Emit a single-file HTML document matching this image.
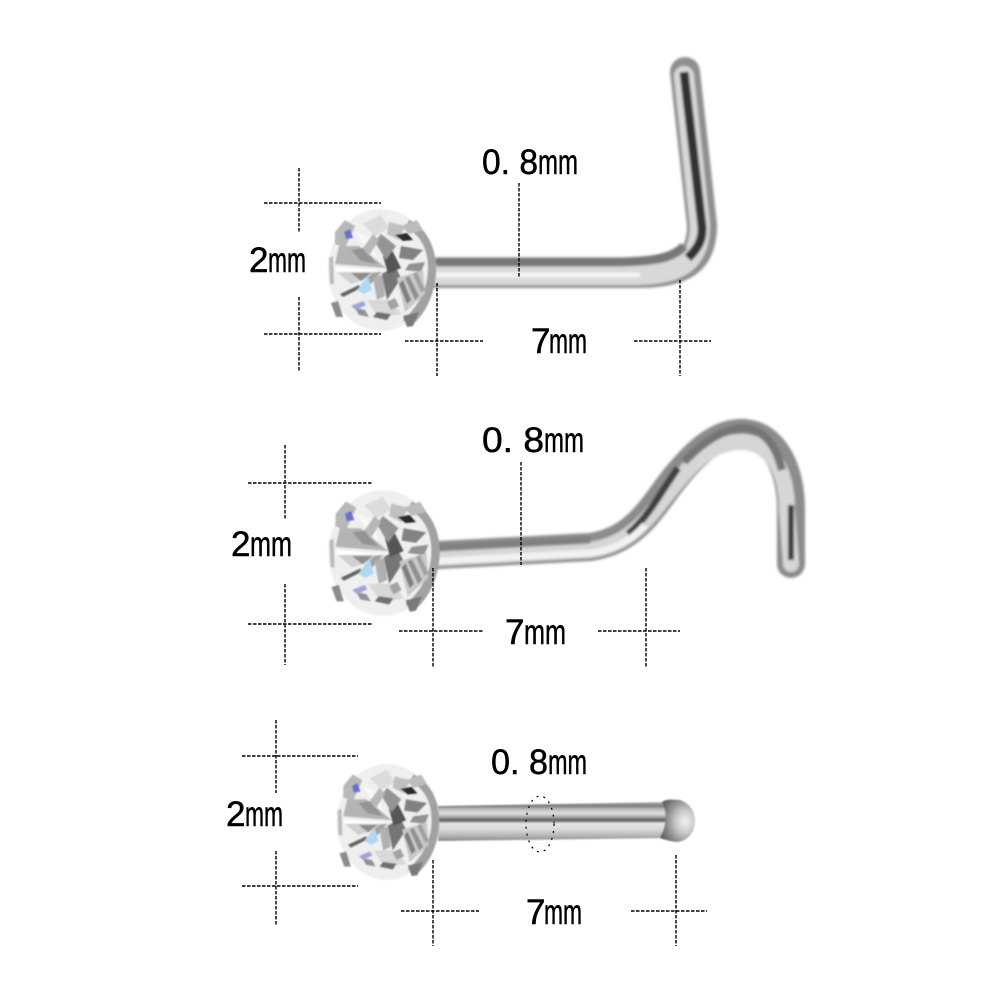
<!DOCTYPE html>
<html><head><meta charset="utf-8"><style>html,body{margin:0;padding:0;background:#fff}svg{display:block}text{font-family:"Liberation Sans",sans-serif;fill:#000;font-size:35px;stroke:#000;stroke-width:.5px}</style></head>
<body>
<svg xmlns="http://www.w3.org/2000/svg" width="1000" height="1000" viewBox="0 0 1000 1000">
<defs>
<filter id="b" x="-10%" y="-10%" width="120%" height="120%"><feGaussianBlur stdDeviation="0.9"/></filter>
<filter id="b2" filterUnits="userSpaceOnUse" x="0" y="0" width="1000" height="1000"><feGaussianBlur stdDeviation="1.3"/></filter>
<linearGradient id="pin" x1="0" y1="0" x2="0" y2="1">
<stop offset="0" stop-color="#b0b0b0"/><stop offset=".1" stop-color="#7c7c7c"/><stop offset=".2" stop-color="#c4c4c4"/><stop offset=".3" stop-color="#dedede"/><stop offset=".4" stop-color="#9c9c9c"/><stop offset=".47" stop-color="#555"/><stop offset=".55" stop-color="#e6e6e6"/><stop offset=".72" stop-color="#d6d6d6"/><stop offset=".88" stop-color="#b0b0b0"/><stop offset="1" stop-color="#868686"/>
</linearGradient>
<radialGradient id="ball" cx=".72" cy=".52" r=".75"><stop offset="0" stop-color="#f2f2f2"/><stop offset=".35" stop-color="#cacaca"/><stop offset=".7" stop-color="#8c8c8c"/><stop offset="1" stop-color="#5e5e5e"/></radialGradient>
<g id="gem">
<ellipse cx="0" cy="0" rx="53" ry="61" fill="#efefef" filter="url(#b)"/>
<g filter="url(#b)">
<path d="M28 -50C46 -42 55 -22 55 -2C55 20 47 42 30 56L22 50C38 36 47 18 47 -2C47 -20 40 -36 24 -42Z" fill="#a2a2a2"/>
<path d="M20 -44L36 -50L42 -40L28 -36Z" fill="#bcbcbc"/>
<path d="M-46 -38L-36 -50L-26 -44L-36 -22L-46 -26Z" fill="#b8b8b8"/>
<path d="M-37 -38L-31 -41L-28 -32L-35 -31Z" fill="#6a70c8"/>
<path d="M-50 33L-43 31L-38 47L-45 47Z" fill="#8c8c8c"/>
<path d="M22 46L38 42L32 56L26 57Z" fill="#7a7a7a"/>
<polygon points="-42,-24 -22,-24 5,-2 -46,-6" fill="#b4b4b4"/>
<polygon points="-30,-20 -18,-22 -4,-6 -20,-9" fill="#949494"/>
<polygon points="-46,-3 5,1 -44,2" fill="#fff"/>
<polygon points="-44,2 4,2 -30,14" fill="#cfcfcf"/>
<polygon points="-30,3 -10,3 -20,11" fill="#8d8d8d"/>
<polygon points="-8,3 0,2 -12,16 -18,12" fill="#a0a0a0"/>
<polygon points="-41,24 -22,15 -20,18 -38,27" fill="#666"/>
<polygon points="-24,20 -13,6 -9,20 -17,24" fill="#b0d8f2"/>
<polygon points="-8,8 2,4 4,26 -4,30" fill="#b0b0b0"/>
<polygon points="1,4 14,-4 20,8 6,30" fill="#757575"/>
<polygon points="2,-14 11,-20 20,-2 7,4" fill="#545454"/>
<polygon points="-6,-28 0,-36 15,-24 5,-10" fill="#949494"/>
<polygon points="-18,-46 0,-55 8,-42 -6,-34" fill="#dcdcdc"/>
<polygon points="-26,-38 -10,-32 -4,-10 -18,-26" fill="#f8f8f8"/>
<polygon points="-8,-36 -2,-30 -12,-14 -18,-22" fill="#b8b8b8"/>
<polygon points="8,-48 24,-44 18,-30 6,-36" fill="#c0c0c0"/>
<polygon points="14,-35 26,-37 32,-30 22,-29" fill="#2a2a2a"/>
<polygon points="20,-24 42,-20 32,-10 18,-12" fill="#828282"/>
<polygon points="28,-6 44,-8 40,2 24,0" fill="#929292"/>
<polygon points="16,8 42,0 44,24 24,42" fill="#c8c8c8"/>
<polygon points="18,14 22,10 30,30 26,34" fill="#808080"/>
<polygon points="24,8 28,6 38,26 34,30" fill="#909090"/>
<polygon points="32,4 36,2 44,20 40,22" fill="#a0a0a0"/>
<polygon points="-14,30 10,30 20,44 -2,48" fill="#d8d8d8"/>
<polygon points="-4,42 10,44 6,50 -8,47" fill="#707070"/>
<polygon points="-26,38 -16,40 -12,47 -22,45" fill="#929292"/>
<polygon points="-30,36 -18,31 -15,35 -25,40" fill="#a0a4d6"/>
<polygon points="6,32 14,28 18,36 10,40" fill="#a2a2a2"/>
<polygon points="-52,-12 -48,-14 -47,14 -51,14" fill="#bcbcbc"/>
</g>
</g>
</defs>

<!-- wire 1 -->
<g fill="none" stroke-linecap="round" filter="url(#b2)">
<path d="M436 273L640 273C682 272 702 262 702 225L685 72" stroke="#8f8f8f" stroke-width="30"/>
<path d="M436 275L640 275C680 274 700 262 700 225L684 76" stroke="#d8d8d8" stroke-width="20"/>
<path d="M436 262L610 262C645 262 672 260 684 246" stroke="#777" stroke-width="9" stroke-linecap="butt"/>
<path d="M436 275L640 275" stroke="#f4f4f4" stroke-width="5" stroke-linecap="butt"/>
<path d="M684 72L702 226C703 240 698 248 688 258" stroke="#333" stroke-width="9" stroke-linecap="butt"/>
</g>
<!-- wire 2 -->
<g fill="none" stroke-linecap="round" filter="url(#b2)">
<path d="M438 555L590 547C640 540 655 500 680 472C705 442 725 432 745 433C775 436 791 470 791 510L791 564" stroke="#8c8c8c" stroke-width="28"/>
<path d="M438 558L590 550C640 543 656 504 682 476C706 448 725 441 745 442C772 445 787 472 787 510L791 564" stroke="#d6d6d6" stroke-width="16"/>
<path d="M438 548L590 540" stroke="#808080" stroke-width="7" stroke-linecap="butt"/>
<path d="M628 534C648 518 662 490 678 468" stroke="#404040" stroke-width="7" stroke-linecap="butt"/>
<path d="M684 462C705 440 725 428 745 428C765 430 776 446 782 470" stroke="#757575" stroke-width="8" stroke-linecap="butt"/>
<path d="M791 505L791 560" stroke="#404040" stroke-width="6" stroke-linecap="butt"/>
<path d="M438 561L590 553C615 550 632 540 645 525" stroke="#f2f2f2" stroke-width="7" stroke-linecap="butt"/>
</g>
<!-- pin 3 -->
<polygon points="438,806 670,802 670,838 438,841" fill="url(#pin)" filter="url(#b)"/>
<path d="M662 802C668 798 675 800 680 800C692 804 695 814 695 821C695 830 690 840 678 842C672 842 666 840 660 838C666 828 668 812 662 802Z" fill="url(#ball)" filter="url(#b)"/>

<use href="#gem" transform="translate(381,270)"/>
<use href="#gem" transform="translate(383,553) scale(1.03)"/>
<use href="#gem" transform="translate(387,822) scale(.95)"/>

<path fill="none" stroke="#000" stroke-width="1.4" stroke-dasharray="3.5 1.5" d="
M264 203H381M264 334H381M299 168V233M299 297V372
M437 283V376M405 341H483M680 280V376M634 341H711M519 183V278
M248 483H372M248 624H372M285 445V520M285 584V665
M433 568V668M399 631H483M646 568V668M598 631H680M521 462V565
M242 756H358M242 886H358M276 720V793M276 851V925
M433 860V946M401 911H479M676 855V946M631 911H707"/>
<ellipse cx="540" cy="824" rx="14" ry="28" fill="none" stroke="#000" stroke-width="1.2" stroke-dasharray="2 5"/>

<text x="482" y="174" textLength="56" lengthAdjust="spacingAndGlyphs">0. 8</text><text x="538" y="174" textLength="40" lengthAdjust="spacingAndGlyphs">mm</text>
<text x="249" y="272">2</text><text x="268" y="272" textLength="38" lengthAdjust="spacingAndGlyphs">mm</text>
<text x="531" y="353">7</text><text x="549" y="353" textLength="38" lengthAdjust="spacingAndGlyphs">mm</text>

<text x="482" y="452" textLength="62" lengthAdjust="spacingAndGlyphs">0. 8</text><text x="544" y="452" textLength="40" lengthAdjust="spacingAndGlyphs">mm</text>
<text x="231" y="556">2</text><text x="250" y="556" textLength="42" lengthAdjust="spacingAndGlyphs">mm</text>
<text x="505" y="644">7</text><text x="524" y="644" textLength="42" lengthAdjust="spacingAndGlyphs">mm</text>

<text x="491" y="774" textLength="57" lengthAdjust="spacingAndGlyphs">0. 8</text><text x="548" y="774" textLength="39" lengthAdjust="spacingAndGlyphs">mm</text>
<text x="226" y="826">2</text><text x="245" y="826" textLength="38" lengthAdjust="spacingAndGlyphs">mm</text>
<text x="526" y="924">7</text><text x="544" y="924" textLength="38" lengthAdjust="spacingAndGlyphs">mm</text>
</svg>
</body></html>
